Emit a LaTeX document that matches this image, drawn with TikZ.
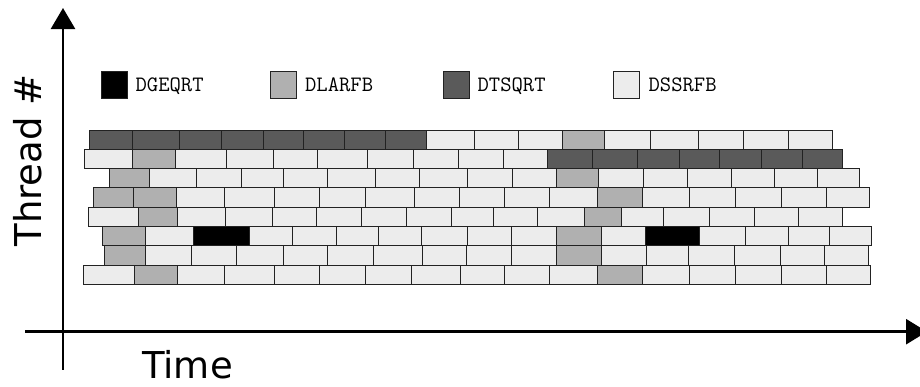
\documentclass[tikz,border=0pt]{standalone}
\usepackage{fontspec}
\newfontfamily\axisfont{DejaVu Sans}
\usepackage{tikz}
\usetikzlibrary{arrows.meta, positioning}
\definecolor{tsqrtgray}{HTML}{5A5A5A}
\definecolor{larfbgray}{HTML}{B0B0B0}
\definecolor{ssrfbgray}{HTML}{ECECEC}
\definecolor{edgegray}{HTML}{222222}
\tikzstyle{task} = [
  draw=edgegray, line width=0.9pt
]
\tikzstyle{dgeqrt} = [task, fill=black]
\tikzstyle{dlarfb} = [task, fill=larfbgray]
\tikzstyle{dtsqrt} = [task, fill=tsqrtgray]
\tikzstyle{dssrfb} = [task, fill=ssrfbgray]
\tikzstyle{keybox} = [
  rectangle, minimum width=26pt, minimum height=27pt,
  inner sep=0pt
]
\tikzstyle{keytext} = [
  font=\fontsize{22}{22}\selectfont\ttfamily,
  inner sep=0pt, text height=13.4pt, text depth=0pt
]
\tikzstyle{axis} = [
  line width=2.6pt, color=black
]
\tikzstyle{axislabel} = [
  font=\fontsize{37}{40}\selectfont\axisfont, inner sep=0pt
]
% one row of tasks: top edge, left edge, list of right edge/kernel
\newcommand{\taskrow}[3]{%
  \foreach \xe/\knd [remember=\xe as \xs (initially #2)] in {#3}
    \draw[\knd] (\xs,#1) rectangle (\xe,#1+19.3);%
}

\begin{document}
\begin{tikzpicture}[x=1pt, y=-1pt]
  \useasboundingbox (0,0) rectangle (920,386);

  % ── Legend ────────────────────────────────────────────
  \node[keybox, dgeqrt] (keydgeqrt) at (114,84.5) {};
  \node[keytext, right=8pt of keydgeqrt] (lbldgeqrt) {DGEQRT};
  \node[keybox, dlarfb] (keydlarfb) at (283.5,84.5) {};
  \node[keytext, right=8pt of keydlarfb] (lbldlarfb) {DLARFB};
  \node[keybox, dtsqrt] (keydtsqrt) at (456,84.5) {};
  \node[keytext, right=8pt of keydtsqrt] (lbldtsqrt) {DTSQRT};
  \node[keybox, dssrfb] (keydssrfb) at (626,84.5) {};
  \node[keytext, right=9pt of keydssrfb] (lbldssrfb) {DSSRFB};

  % ── Task rows, one per thread ─────────────────────────
  \taskrow{130}{89}{132/dtsqrt,179/dtsqrt,221/dtsqrt,263/dtsqrt,303/dtsqrt,
    344/dtsqrt,385/dtsqrt,426/dtsqrt,474/dssrfb,518/dssrfb,562/dssrfb,
    604/dlarfb,650/dssrfb,698/dssrfb,743/dssrfb,788/dssrfb,832/dssrfb}
  \taskrow{149.3}{84}{132/dssrfb,175/dlarfb,226/dssrfb,273/dssrfb,317/dssrfb,
    367/dssrfb,413/dssrfb,458/dssrfb,503/dssrfb,547/dssrfb,592/dtsqrt,
    637/dtsqrt,679/dtsqrt,719/dtsqrt,761/dtsqrt,802/dtsqrt,842/dtsqrt}
  \taskrow{168.6}{109}{149/dlarfb,196/dssrfb,241/dssrfb,283/dssrfb,327/dssrfb,
    375/dssrfb,419/dssrfb,467/dssrfb,512/dssrfb,556/dssrfb,598/dlarfb,
    643/dssrfb,687/dssrfb,731/dssrfb,774/dssrfb,817/dssrfb,859/dssrfb}
  \taskrow{187.9}{93}{133/dlarfb,176/dlarfb,224/dssrfb,274/dssrfb,319/dssrfb,
    365/dssrfb,414/dssrfb,459/dssrfb,504/dssrfb,549/dssrfb,597/dssrfb,
    642/dlarfb,689/dssrfb,735/dssrfb,781/dssrfb,826/dssrfb,869/dssrfb}
  \taskrow{207.2}{88}{138/dssrfb,177/dlarfb,225/dssrfb,272/dssrfb,316/dssrfb,
    361/dssrfb,406/dssrfb,451/dssrfb,493/dssrfb,537/dssrfb,584/dssrfb,
    621/dlarfb,663/dssrfb,709/dssrfb,754/dssrfb,798/dssrfb,842/dssrfb}
  \taskrow{226.5}{102}{145/dlarfb,193/dssrfb,249/dgeqrt,292/dssrfb,336/dssrfb,
    378/dssrfb,421/dssrfb,467/dssrfb,511/dssrfb,556/dssrfb,601/dlarfb,
    645/dssrfb,699/dgeqrt,745/dssrfb,788/dssrfb,829/dssrfb,871/dssrfb}
  \taskrow{245.8}{104}{145/dlarfb,191/dssrfb,236/dssrfb,283/dssrfb,327/dssrfb,
    373/dssrfb,422/dssrfb,466/dssrfb,511/dssrfb,556/dssrfb,601/dlarfb,
    646/dssrfb,688/dssrfb,734/dssrfb,780/dssrfb,824/dssrfb,868/dssrfb}
  \taskrow{265.1}{83}{134/dssrfb,177/dlarfb,224/dssrfb,274/dssrfb,319/dssrfb,
    365/dssrfb,411/dssrfb,460/dssrfb,504/dssrfb,549/dssrfb,597/dssrfb,
    642/dlarfb,689/dssrfb,735/dssrfb,781/dssrfb,826/dssrfb,870/dssrfb}

  % ── Axes ──────────────────────────────────────────────
  \coordinate (ybot)   at (63,369.5);
  \coordinate (ytop)   at (63,8);
  \coordinate (xleft)  at (25,331.7);
  \coordinate (xright) at (927,331.7);
  \draw[axis, -{Triangle[length=21pt, width=24pt]}] (ybot) -- (ytop);
  \draw[axis, -{Triangle[length=21pt, width=25pt]}] (xleft) -- (xright);

  \node[axislabel, rotate=90, anchor=base] (threadlbl) at (41.7,160.5) {Thread \#};
  \node[axislabel, anchor=base west] (timelbl) at (142,378.3) {Time};

\end{tikzpicture}
\end{document}
